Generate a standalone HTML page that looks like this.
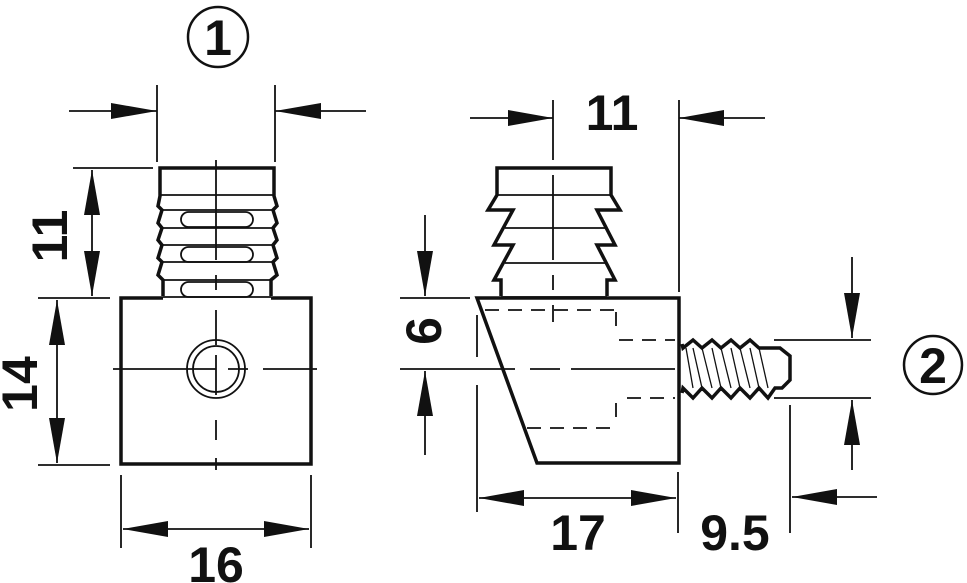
<!DOCTYPE html>
<html><head><meta charset="utf-8"><style>
html,body{margin:0;padding:0;background:#fff;}
svg{display:block;}
text{font-family:"Liberation Sans",sans-serif;font-weight:bold;fill:#111;}
</style></head><body>
<svg width="967" height="583" viewBox="0 0 967 583" xmlns="http://www.w3.org/2000/svg">
<g stroke="#111" fill="none" stroke-width="1.8">
<!-- LEFT VIEW dims -->
<line x1="157" y1="85" x2="157" y2="162"/><line x1="275" y1="85" x2="275" y2="162"/>
<line x1="69" y1="111" x2="157" y2="111"/><line x1="275" y1="111" x2="366" y2="111"/>
<line x1="73" y1="168" x2="153" y2="168"/>
<line x1="38" y1="298" x2="110" y2="298"/>
<line x1="38" y1="465" x2="110" y2="465"/>
<line x1="92" y1="170" x2="92" y2="296"/>
<line x1="57" y1="300" x2="57" y2="463"/>
<line x1="121" y1="475" x2="121" y2="548"/><line x1="311" y1="475" x2="311" y2="548"/>
<line x1="123" y1="529" x2="309" y2="529"/>
<!-- left centerlines -->
<line x1="216" y1="160" x2="216" y2="260"/><line x1="216" y1="275" x2="216" y2="290"/>
<line x1="216" y1="310" x2="216" y2="345"/><line x1="216" y1="355" x2="216" y2="395"/>
<line x1="216" y1="420" x2="216" y2="440"/><line x1="216" y1="458" x2="216" y2="470"/>
<line x1="113" y1="369" x2="216" y2="369"/><line x1="228" y1="369" x2="248" y2="369"/><line x1="263" y1="369" x2="317" y2="369"/>
<!-- circles -->
<circle cx="216" cy="369" r="29"/><circle cx="216" cy="369" r="23"/>
<!-- left part -->
<g stroke-width="3.5" stroke-linejoin="miter">
<polyline points="163,296 163,280 158,275 162,262 158,258 162,245 158,240 162,228 158,223 162,210 158,206 160,196 160,168 274,168 274,196 277,206 273,210 277,223 273,228 277,240 273,245 277,258 273,262 277,275 271,280 271,296"/>
<polyline points="163,298 121,298 121,464 311,464 311,298 271,298"/>
</g>
<line x1="160" y1="195" x2="274" y2="195"/>
<line x1="160" y1="210" x2="274" y2="210"/>
<line x1="160" y1="228" x2="274" y2="228"/>
<line x1="160" y1="245" x2="274" y2="245"/>
<line x1="160" y1="262" x2="274" y2="262"/>
<line x1="163" y1="280" x2="271" y2="280"/>
<line x1="163" y1="297" x2="271" y2="297"/>
<rect x="181" y="212" width="72" height="15" rx="7.5"/>
<rect x="181" y="247" width="72" height="15" rx="7.5"/>
<rect x="181" y="282" width="72" height="15" rx="7.5"/>

<!-- RIGHT VIEW dims -->
<line x1="553" y1="100" x2="553" y2="160"/><line x1="553" y1="175" x2="553" y2="260"/><line x1="553" y1="275" x2="553" y2="290"/><line x1="553" y1="305" x2="553" y2="322"/>
<line x1="679" y1="100" x2="679" y2="292"/>
<line x1="470" y1="118" x2="553" y2="118"/><line x1="679" y1="118" x2="765" y2="118"/>
<line x1="400" y1="298" x2="470" y2="298"/>
<line x1="400" y1="369" x2="515" y2="369"/><line x1="530" y1="369" x2="560" y2="369"/><line x1="571" y1="369" x2="675" y2="369"/>
<line x1="425" y1="215" x2="425" y2="296"/><line x1="425" y1="371" x2="425" y2="455"/>
<line x1="477" y1="315" x2="477" y2="357"/><line x1="477" y1="385" x2="477" y2="512"/>
<line x1="678" y1="472" x2="678" y2="533"/>
<line x1="479" y1="498" x2="676" y2="498"/>
<line x1="790" y1="405" x2="790" y2="533"/>
<line x1="792" y1="497" x2="877" y2="497"/>
<line x1="852" y1="257" x2="852" y2="338"/><line x1="852" y1="400" x2="852" y2="470"/>
<line x1="774" y1="340" x2="871" y2="340"/><line x1="774" y1="398" x2="871" y2="398"/>
<!-- dashed hidden -->
<g stroke-dasharray="14,9">
<line x1="485" y1="310" x2="615" y2="310"/>
<line x1="616" y1="312" x2="616" y2="328"/>
<line x1="619" y1="340" x2="675" y2="340"/>
<line x1="627" y1="398" x2="675" y2="398"/>
<line x1="616" y1="403" x2="616" y2="420"/>
<line x1="527" y1="428" x2="612" y2="428"/>
</g>
<!-- right part -->
<g stroke-width="3.5" stroke-linejoin="miter">
<polyline points="501,296 501,280 494,280 513,245 494,245 513,210 488,210 497,195 497,168 611,168 611,195 620,210 597,210 615,245 597,245 615,280 607,280 607,296"/>
<polygon points="477,298 679,298 679,463 537,463"/>
<polyline points="682,344 683,348 693,340 702,348 712,340 721,348 731,340 740,348 750,340 759,348 768,348 780,348 790,356 790,380 782,388 775,388 768,398 759,388 750,398 740,388 731,398 721,388 712,398 702,388 693,398 683,388 682,393"/>
</g>
<line x1="497" y1="195" x2="611" y2="195"/>
<line x1="505" y1="228" x2="605" y2="228"/>
<line x1="505" y1="263" x2="605" y2="263"/>
<line x1="501" y1="297" x2="607" y2="297"/>
<g stroke-width="1.3">
<line x1="686" y1="348" x2="693" y2="388"/><line x1="693" y1="348" x2="702" y2="388"/>
<line x1="702" y1="348" x2="712" y2="388"/><line x1="712" y1="348" x2="721" y2="388"/>
<line x1="721" y1="348" x2="731" y2="388"/><line x1="731" y1="348" x2="740" y2="388"/>
<line x1="740" y1="348" x2="750" y2="388"/><line x1="750" y1="348" x2="759" y2="388"/>
<line x1="759" y1="348" x2="768" y2="388"/>
</g>
<!-- circled numbers -->
<circle cx="218" cy="37" r="30" stroke-width="2.5"/>
<circle cx="933" cy="365" r="29" stroke-width="2.5"/>
</g>
<!-- arrowheads -->
<g fill="#111">
<polygon points="157,111 111,103 111,119"/>
<polygon points="275,111 321,103 321,119"/>
<polygon points="92,170 84,215 100,215"/>
<polygon points="92,296 84,251 100,251"/>
<polygon points="57,300 49,345 65,345"/>
<polygon points="57,463 49,418 65,418"/>
<polygon points="123,529 168,521 168,537"/>
<polygon points="309,529 264,521 264,537"/>
<polygon points="553,118 508,110 508,126"/>
<polygon points="679,118 724,110 724,126"/>
<polygon points="425,296 417,251 433,251"/>
<polygon points="425,371 417,416 433,416"/>
<polygon points="479,498 524,490 524,506"/>
<polygon points="676,498 631,490 631,506"/>
<polygon points="792,497 837,489 837,505"/>
<polygon points="852,338 844,293 860,293"/>
<polygon points="852,400 844,445 860,445"/>
</g>
<text x="218" y="55" font-size="50" text-anchor="middle">1</text>
<text x="933" y="383" font-size="50" text-anchor="middle">2</text>
<text x="612" y="130" font-size="50" text-anchor="middle">11</text>
<text x="216" y="582" font-size="50" text-anchor="middle">16</text>
<text x="578" y="550" font-size="50" text-anchor="middle">17</text>
<text x="735" y="550" font-size="50" text-anchor="middle">9.5</text>
<text transform="translate(67,236) rotate(-90)" font-size="50" text-anchor="middle">11</text>
<text transform="translate(37,384) rotate(-90)" font-size="50" text-anchor="middle">14</text>
<text transform="translate(441,331) rotate(-90)" font-size="50" text-anchor="middle">6</text>
</svg>
</body></html>
